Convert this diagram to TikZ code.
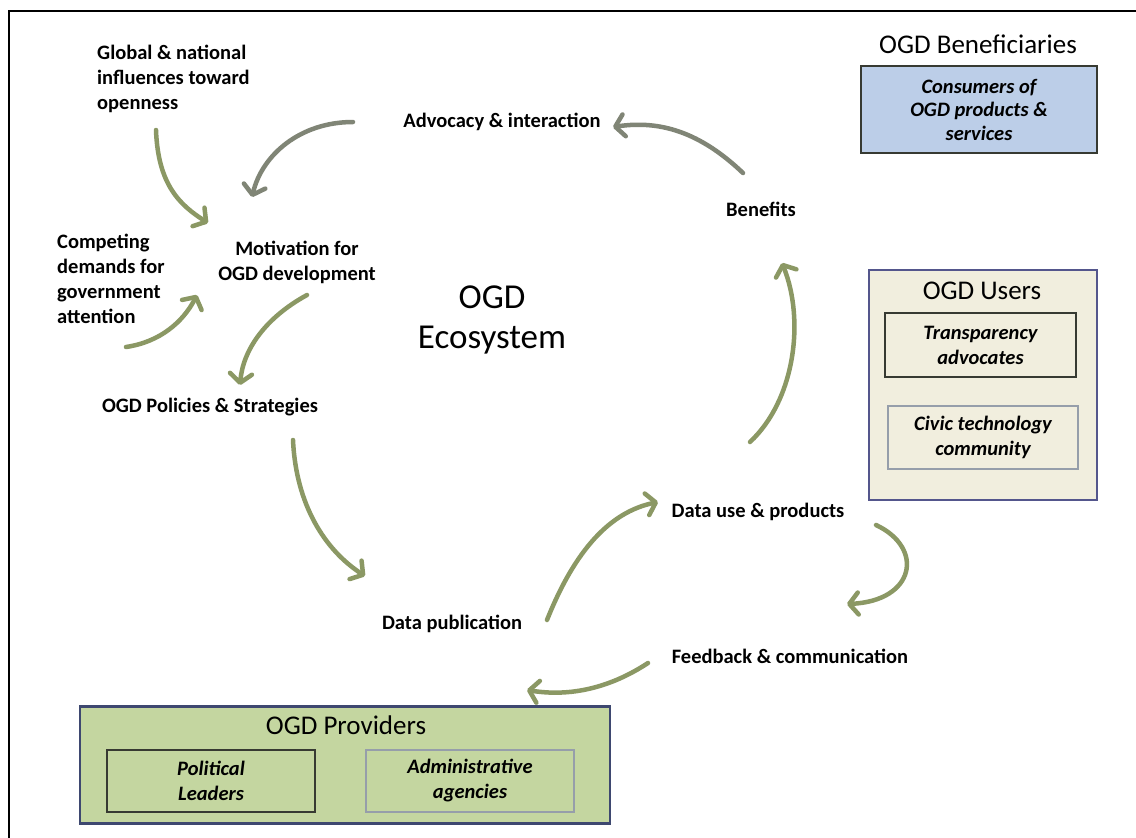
\documentclass[tikz,border=0pt]{standalone}
\usepackage{fontspec}
\setmainfont{Carlito}
\usetikzlibrary{arrows.meta}

\definecolor{flowolive}{RGB}{139,152,100}
\definecolor{flowgray}{RGB}{128,133,118}
\definecolor{benefill}{RGB}{188,206,232}
\definecolor{userfill}{RGB}{241,238,222}
\definecolor{userline}{RGB}{84,86,140}
\definecolor{provfill}{RGB}{196,214,160}
\definecolor{provline}{RGB}{62,72,112}
\definecolor{darkrule}{RGB}{55,58,50}
\definecolor{lightrule}{RGB}{150,158,170}

\tikzset{
  lbl/.style={font=\fontsize{20.5}{25}\selectfont\bfseries, align=center, inner sep=0pt},
  lbll/.style={lbl, align=left, anchor=west},
  head/.style={font=\fontsize{27}{32}\selectfont, inner sep=0pt},
  big/.style={font=\fontsize{35}{40}\selectfont, align=center, inner sep=0pt},
  itl/.style={font=\fontsize{20.5}{25}\selectfont\bfseries\itshape, align=center, inner sep=0pt},
  group/.style={draw, line width=2.5pt, inner sep=0pt},
  member/.style={draw, line width=1.4pt, inner sep=0pt},
  flow/.style={line width=4.5pt, flowolive, line cap=round,
    -{Straight Barb[length=9pt,width=22pt,line cap=round,line join=round]}},
  flowg/.style={flow, flowgray},
}

\begin{document}
\begin{tikzpicture}[x=1pt,y=-1pt]
\useasboundingbox (0,0) rectangle (1136,838);
\fill[white] (0,0) rectangle (1136,838);
\begin{scope}
\clip (0,0) rectangle (1136,838);
\draw[line width=2pt, black] (9,11) rectangle (1160,860);
\end{scope}

% cycle stages and side influences
\node[lbll] (glob) at (97,79) {Global \& national\\influences toward\\openness};
\node[lbll] (compete) at (57,279) {Competing\\demands for\\government\\attention};
\node[lbl] (motiv) at (297,262) {Motivation for\\OGD development};
\node[lbl] (advoc) at (502,122) {Advocacy \& interaction};
\node[lbl] (benef) at (761,209) {Benefits};
\node[big] (eco) at (492,320) {OGD\\Ecosystem};
\node[lbl] (policy) at (210,407) {OGD Policies \& Strategies};
\node[lbl] (datause) at (758,512) {Data use \& products};
\node[lbl] (datapub) at (452,624) {Data publication};
\node[lbl] (feedback) at (790,656) {Feedback \& communication};

% beneficiaries
\node[head] (benehead) at (978,44) {OGD Beneficiaries};
\node[member, draw=darkrule, fill=benefill, minimum width=236pt, minimum height=87pt] (consumers) at (979,109.5) {};
\node[itl, font=\fontsize{20.5}{23.5}\selectfont\bfseries\itshape] at (consumers) {Consumers of\\OGD products \&\\services};

% users
\node[group, draw=userline, fill=userfill, minimum width=228pt, minimum height=230pt] (users) at (983,385) {};
\node[head] (userhead) at (982,291) {OGD Users};
\node[member, draw=darkrule, fill=userfill, minimum width=191pt, minimum height=64pt] (transp) at (980.5,345) {};
\node[itl] at (transp) {Transparency\\advocates};
\node[member, draw=lightrule, fill=userfill, minimum width=190pt, minimum height=63pt] (civic) at (983,437.5) {};
\node[itl] at (civic) {Civic technology\\community};

% providers
\node[group, draw=provline, fill=provfill, minimum width=530pt, minimum height=117pt] (prov) at (345,765) {};
\node[head] (provhead) at (346,725) {OGD Providers};
\node[member, draw=darkrule, fill=provfill, minimum width=208pt, minimum height=62pt] (polit) at (211,781) {};
\node[itl] at (polit) {Political\\Leaders};
\node[member, draw=lightrule, fill=provfill, minimum width=208pt, minimum height=62pt] (admin) at (470,781) {};
\node[itl] at (admin) {Administrative\\agencies};

% free ends of the curved connectors
\coordinate (g1) at (156,130);   \coordinate (m1) at (208,223);
\coordinate (a1) at (353,122);   \coordinate (m2) at (252,197);
\coordinate (c1) at (126,347);   \coordinate (m3) at (197,295);
\coordinate (m4) at (307,295);   \coordinate (p1) at (240,385);
\coordinate (p2) at (293,440);   \coordinate (d1) at (365,576);
\coordinate (d2) at (547,620);   \coordinate (u1) at (658,502);
\coordinate (u2) at (876,525);   \coordinate (f1) at (847,604);
\coordinate (f2) at (648,663);   \coordinate (d3) at (527,690);
\coordinate (u3) at (750,442);   \coordinate (b1) at (782,263);
\coordinate (b2) at (743,173);   \coordinate (a2) at (613,127);

\draw[flow]  (g1) .. controls (158,185) and (180,205) .. (m1);
\draw[flowg] (a1) .. controls (300,122) and (262,155) .. (m2);
\draw[flow]  (c1) .. controls (160,342) and (183,322) .. (m3);
\draw[flow]  (m4) .. controls (265,318) and (243,350) .. (p1);
\draw[flow]  (p2) .. controls (296,505) and (325,550) .. (d1);
\draw[flow]  (d2) .. controls (575,550) and (610,512) .. (u1);
\draw[flow]  (u2) .. controls (925,548) and (915,601) .. (f1);
\draw[flow]  (f2) .. controls (610,688) and (570,697) .. (d3);
\draw[flow]  (u3) .. controls (795,400) and (805,320) .. (b1);
\draw[flowg] (b2) .. controls (700,132) and (660,120) .. (a2);
\end{tikzpicture}
\end{document}
